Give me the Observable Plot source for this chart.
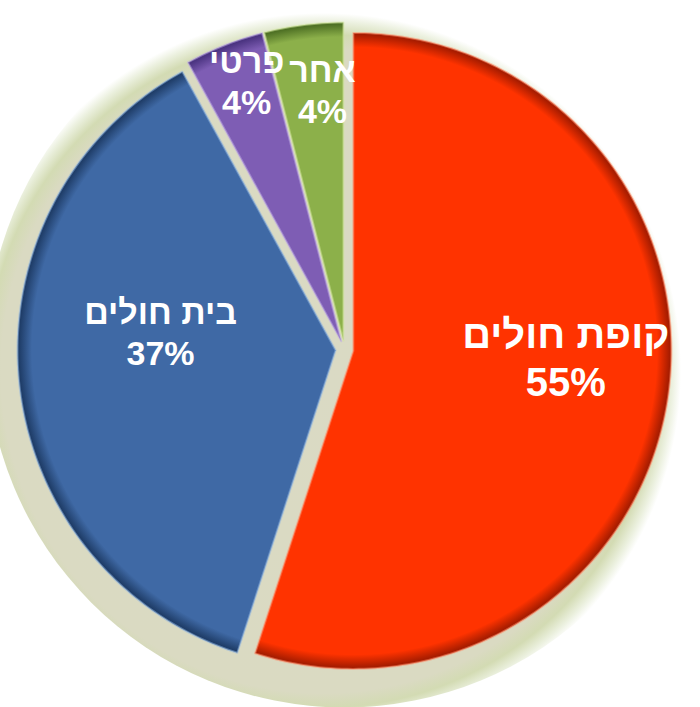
<!DOCTYPE html>
<html><head><meta charset="utf-8">
<script src="https://cdn.jsdelivr.net/npm/d3@7"></script>
<script src="https://cdn.jsdelivr.net/npm/@observablehq/plot@0.6"></script>
<style>html,body{margin:0;padding:0;background:#fff}svg{display:block}</style>
</head><body><div id="chart"></div>
<script>
// ---- data ----
const categories = ["קופת חולים", "בית חולים", "פרטי", "אחר"];
const shares = [55, 37, 4, 4];
const fills = ["#FF3300", "#3F69A5", "#7E5DB4", "#8CB04A"];
const rims = ["#A61C00", "#1F3D68", "#4A3380", "#4E7024"];
const highlights = ["#FF8A66", "#8AB2E2", "#BBA6E8", "#D2E89C"];

// ---- layout ----
const W = 700, H = 707, R = 318, CX = 344, CY = 349;
const explode = 9 / R;
const arcs = d3.pie().sort(null).value(d => d)(shares).map((a, i) => {
  const mid = (a.startAngle + a.endAngle) / 2;
  return {...a, i, name: categories[i], mid,
    ox: explode * Math.sin(mid), oy: explode * Math.cos(mid)};
});

function slicePoints(a) {
  const pts = [{x: a.ox, y: a.oy}];
  const n = Math.max(10, Math.ceil((a.endAngle - a.startAngle) / (Math.PI / 180)));
  for (let k = 0; k <= n; k++) {
    const t = a.startAngle + (a.endAngle - a.startAngle) * k / n;
    pts.push({x: a.ox + Math.sin(t), y: a.oy + Math.cos(t)});
  }
  pts.push({x: a.ox, y: a.oy});
  return pts;
}

const labelK = a => (a.value >= 30 ? 0.6 : 0.85);
const labels = arcs.map(a => ({
  i: a.i,
  x: a.ox + labelK(a) * Math.sin(a.mid),
  y: a.oy + labelK(a) * Math.cos(a.mid),
  text: `${a.name}\n${a.value}%`,
  size: a.value >= 50 ? 40 : 34
}));
const nudge = [[24, -24], [15, -37], [5, -9], [13, 17]];

const defsMark = (index, {x, y}) => {
  const g = document.createElementNS("http://www.w3.org/2000/svg", "g");
  let html = `<defs>
    <radialGradient id="glow" cx="0.47" cy="0.53" r="0.5">
      <stop offset="0" stop-color="#dadac4"/>
      <stop offset="0.9" stop-color="#dadac2"/>
      <stop offset="0.94" stop-color="#d3dbb3"/>
      <stop offset="0.975" stop-color="#ebf0de"/>
      <stop offset="1" stop-color="#ffffff"/>
    </radialGradient>`;
  arcs.forEach(a => {
    const px = x(a.ox), py = y(a.oy), pr = x(1) - x(0);
    html += `<radialGradient id="slice${a.i}" gradientUnits="userSpaceOnUse" cx="${px}" cy="${py}" r="${pr}">
      <stop offset="0" stop-color="${fills[a.i]}"/>
      <stop offset="0.955" stop-color="${fills[a.i]}"/>
      <stop offset="0.995" stop-color="${rims[a.i]}"/>
      <stop offset="1" stop-color="${rims[a.i]}"/>
    </radialGradient>`;
  });
  html += `</defs>`;
  g.innerHTML = html;
  return g;
};

const marks = [
  defsMark,
  Plot.dot([0], {x: () => 0, y: () => 0, r: 358, fill: "url(#glow)", stroke: "none"})
];
arcs.forEach(a => {
  const pts = slicePoints(a);
  marks.push(Plot.line(pts, {x: "x", y: "y", fill: `url(#slice${a.i})`, stroke: "none", curve: "linear"}));
  marks.push(Plot.line(pts, {x: "x", y: "y", fill: "none", stroke: highlights[a.i], strokeWidth: 2, strokeOpacity: 0.5, strokeLinejoin: "round", curve: "linear"}));
});
labels.forEach(l => {
  marks.push(Plot.text([l], {
    x: "x", y: "y", text: "text", fill: "white", fontSize: l.size, fontWeight: "bold",
    fontFamily: "'Liberation Sans', Arial, sans-serif", lineAnchor: "middle", lineHeight: 1.2,
    dx: nudge[l.i][0], dy: nudge[l.i][1]
  }));
});

const chart = Plot.plot({
  width: W, height: H, margin: 0,
  x: {domain: [-CX / R, (W - CX) / R], range: [0, W], axis: null},
  y: {domain: [-(H - CY) / R, CY / R], range: [H, 0], axis: null},
  style: {background: "#fff", overflow: "visible"},
  marks
});
document.getElementById("chart").appendChild(chart);
</script>
</body></html>
